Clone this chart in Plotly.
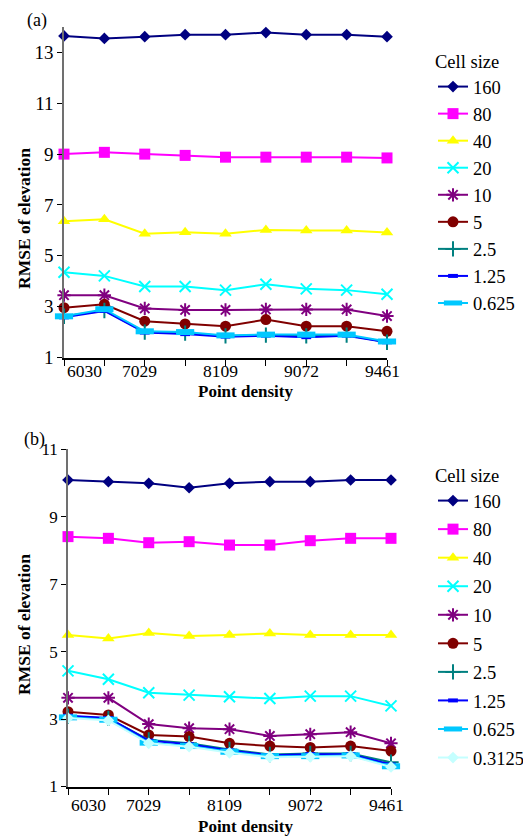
import plotly.graph_objects as go

# ---------------- data ----------------
point_density_labels = ["6030", "", "7029", "", "8109", "", "9072", "", "9461"]
x_idx = list(range(len(point_density_labels)))

cell_sizes_a = ["160", "80", "40", "20", "10", "5", "2.5", "1.25", "0.625"]
rmse_a_160 = [13.65, 13.55, 13.62, 13.70, 13.70, 13.78, 13.70, 13.70, 13.62]
rmse_a_80 = [9.00, 9.07, 9.00, 8.95, 8.88, 8.88, 8.88, 8.88, 8.85]
rmse_a_40 = [6.36, 6.44, 5.87, 5.93, 5.87, 6.02, 6.00, 6.00, 5.92]
rmse_a_20 = [4.35, 4.21, 3.79, 3.79, 3.65, 3.88, 3.70, 3.65, 3.49]
rmse_a_10 = [3.45, 3.45, 2.93, 2.87, 2.87, 2.89, 2.89, 2.89, 2.63]
rmse_a_5 = [2.96, 3.09, 2.43, 2.32, 2.23, 2.49, 2.23, 2.23, 2.03]
rmse_a_2_5 = [2.62, 2.85, 2.00, 1.96, 1.85, 1.88, 1.85, 1.88, 1.60]
rmse_a_1_25 = [2.58, 2.83, 1.98, 1.92, 1.82, 1.86, 1.80, 1.86, 1.60]
rmse_a_0_625 = [2.62, 2.90, 2.03, 2.00, 1.87, 1.90, 1.90, 1.90, 1.63]

cell_sizes_b = ["160", "80", "40", "20", "10", "5", "2.5", "1.25", "0.625", "0.3125"]
rmse_b_160 = [10.09, 10.04, 9.99, 9.86, 9.99, 10.04, 10.04, 10.09, 10.09]
rmse_b_80 = [8.41, 8.36, 8.23, 8.26, 8.16, 8.16, 8.29, 8.36, 8.36]
rmse_b_40 = [5.49, 5.39, 5.55, 5.46, 5.49, 5.54, 5.49, 5.49, 5.49]
rmse_b_20 = [4.43, 4.18, 3.78, 3.71, 3.66, 3.61, 3.68, 3.68, 3.39]
rmse_b_10 = [3.63, 3.63, 2.85, 2.73, 2.70, 2.50, 2.55, 2.61, 2.28]
rmse_b_5 = [3.22, 3.12, 2.53, 2.48, 2.28, 2.20, 2.16, 2.20, 2.05]
rmse_b_2_5 = [3.08, 3.02, 2.38, 2.28, 2.10, 1.95, 1.98, 1.98, 1.72]
rmse_b_1_25 = [3.10, 3.03, 2.36, 2.25, 2.07, 1.93, 1.96, 1.96, 1.65]
rmse_b_0_625 = [3.05, 2.98, 2.30, 2.20, 2.03, 1.90, 1.90, 1.92, 1.60]
rmse_b_0_3125 = [3.03, 2.96, 2.28, 2.18, 2.00, 1.87, 1.88, 1.90, 1.58]

y_ticks_a = [1, 3, 5, 7, 9, 11, 13]
y_ticks_b = [1, 3, 5, 7, 9, 11]

series_a = [rmse_a_160, rmse_a_80, rmse_a_40, rmse_a_20, rmse_a_10,
            rmse_a_5, rmse_a_2_5, rmse_a_1_25, rmse_a_0_625]
series_b = [rmse_b_160, rmse_b_80, rmse_b_40, rmse_b_20, rmse_b_10,
            rmse_b_5, rmse_b_2_5, rmse_b_1_25, rmse_b_0_625, rmse_b_0_3125]

# ---------------- styles ----------------
STYLE = {
    "160": dict(color="#000080", symbol="diamond", size=9, lw=0),
    "80": dict(color="#FF00FF", symbol="square", size=11, lw=0),
    "40": dict(color="#FFFF00", symbol="triangle-up", size=11, lw=0),
    "20": dict(color="#00FFFF", symbol="x-thin", size=11, lw=2),
    "10": dict(color="#800080", symbol="asterisk", size=11, lw=2),
    "5": dict(color="#800000", symbol="circle", size=11, lw=0),
    "2.5": dict(color="#008080", symbol="cross-thin", size=11, lw=2),
    "1.25": dict(color="#0000FF", symbol="line-ew", size=7, lw=4),
    "0.625": dict(color="#00C8FF", symbol="line-ew", size=13, lw=6),
    "0.3125": dict(color="#C4FFFF", symbol="diamond", size=9, lw=0),
}

FONT = "Liberation Serif, Times New Roman, Times, serif"

fig = go.Figure()


def add_series(names, series, xa, ya, legend, grp):
    for name, vals in zip(names, series):
        st = STYLE[name]
        marker = dict(symbol=st["symbol"], size=st["size"], color=st["color"])
        if st["lw"]:
            marker["line"] = dict(color=st["color"], width=st["lw"])
        else:
            marker["line"] = dict(width=0)
        fig.add_trace(go.Scatter(
            x=x_idx, y=vals, mode="lines+markers", name=name,
            line=dict(color=st["color"], width=2),
            marker=marker, xaxis=xa, yaxis=ya, legend=legend,
            legendgroup=grp + name, cliponaxis=False,
        ))


add_series(cell_sizes_a, series_a, "x", "y", "legend", "a")
add_series(cell_sizes_b, series_b, "x2", "y2", "legend2", "b")

W, H = 531, 838
OFF = 8  # page body margin


def px_x(p):
    return (p - OFF) / W


def px_y(p):
    return 1 - (p - OFF) / H


xaxis_common = dict(
    range=[0, 8], tickvals=x_idx, showticklabels=False, ticks="outside",
    ticklen=6, tickwidth=1, tickcolor="#000000", showline=True,
    linecolor="#000000", linewidth=2, showgrid=False, zeroline=False,
    fixedrange=True, automargin=False,
)
yaxis_common = dict(
    ticks="outside", ticklen=5, tickwidth=1, tickcolor="#000000",
    showline=True, linecolor="#707070", linewidth=1.5, showgrid=False,
    zeroline=False, automargin=False,
)

fig.update_layout(
    template="none",
    width=W, height=H, margin=dict(l=0, r=0, t=0, b=0, pad=0, autoexpand=False),
    paper_bgcolor="white", plot_bgcolor="white",
    font=dict(family=FONT, color="#000000"),
    xaxis=dict(domain=[px_x(64), px_x(387)], anchor="y", **xaxis_common),
    yaxis=dict(domain=[px_y(357.5), px_y(27)], anchor="x", range=[1, 14],
               tickvals=y_ticks_a,
               tickfont=dict(family=FONT, size=19, color="#000000"),
               **yaxis_common),
    xaxis2=dict(domain=[px_x(68), px_x(391)], anchor="y2", **xaxis_common),
    yaxis2=dict(domain=[px_y(786.5), px_y(449.3)], anchor="x2", range=[1, 11],
                tickvals=y_ticks_b,
                tickfont=dict(family=FONT, size=17, color="#000000"),
                **yaxis_common),
    legend=dict(
        x=px_x(433), y=px_y(44), xanchor="left", yanchor="top",
        title=dict(text="Cell size", font=dict(family=FONT, size=18.5)),
        font=dict(family=FONT, size=18.5), tracegroupgap=0,
        traceorder="grouped", bgcolor="rgba(0,0,0,0)",
    ),
    legend2=dict(
        x=px_x(433), y=px_y(458), xanchor="left", yanchor="top",
        title=dict(text="Cell size", font=dict(family=FONT, size=18.5)),
        font=dict(family=FONT, size=18.5), tracegroupgap=1.5,
        traceorder="grouped", bgcolor="rgba(0,0,0,0)",
    ),
    showlegend=True,
)

annotations = []
# x tick labels
for xa, ya, yshift in (("x", "y", -13), ("x2", "y2", -18)):
    for i, lab in enumerate(point_density_labels):
        if not lab:
            continue
        if i == 0:
            xanchor, xshift = "left", 1
        else:
            xanchor, xshift = "center", -5
        annotations.append(dict(
            x=i, y=1, xref=xa, yref=ya, text=lab, showarrow=False,
            xanchor=xanchor, yanchor="middle", xshift=xshift, yshift=yshift,
            font=dict(family=FONT, size=17.5, color="#000000"),
        ))

# axis titles
for ycen in (391, 826):
    annotations.append(dict(
        x=px_x(245), y=px_y(ycen), xref="paper", yref="paper",
        text="<b>Point density</b>", showarrow=False,
        xanchor="center", yanchor="middle",
        font=dict(family=FONT, size=17, color="#000000"),
    ))
for ycen in (219, 625):
    annotations.append(dict(
        x=px_x(24), y=px_y(ycen), xref="paper", yref="paper",
        text="<b>RMSE of elevation</b>", showarrow=False, textangle=-90,
        xanchor="center", yanchor="middle",
        font=dict(family=FONT, size=17.5, color="#000000"),
    ))
# panel labels
for lab, ytop, xc in (("(a)", 8.5, 37), ("(b)", 427, 34)):
    annotations.append(dict(
        x=px_x(xc), y=px_y(ytop), xref="paper", yref="paper", text=lab,
        showarrow=False, xanchor="center", yanchor="top",
        font=dict(family=FONT, size=18, color="#000000"),
    ))

fig.update_layout(annotations=annotations)

fig.write_html("out.html")
